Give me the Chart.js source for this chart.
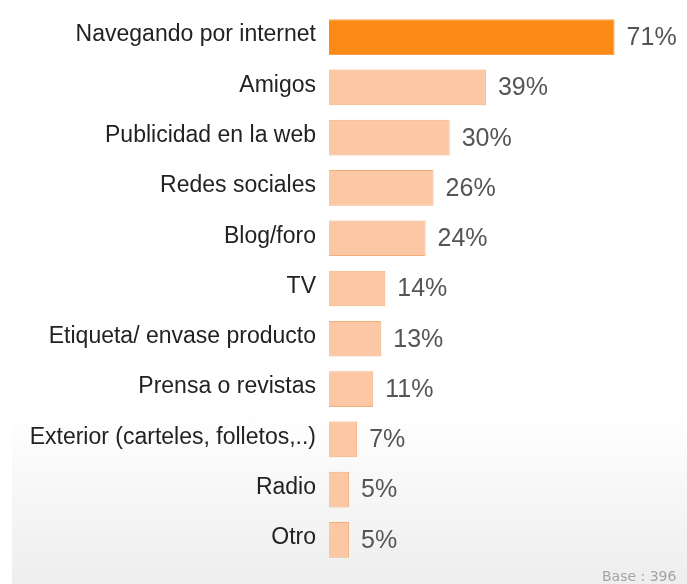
<!DOCTYPE html>
<html>
<head>
<meta charset="utf-8">
<script src="https://cdn.jsdelivr.net/npm/chart.js@4"></script>
<style>
  html, body { margin: 0; padding: 0; background: #fff; }
  .wrap { position: relative; width: 687px; height: 584px; overflow: hidden; }
  .panel {
    position: absolute; left: 12px; top: 0; right: 0; bottom: 0;
    background: linear-gradient(to bottom, #ffffff 0%, #ffffff 70%, #eeeeee 100%);
  }
  canvas { position: absolute; left: 0; top: 0; }
  .base {
    position: absolute; left: 602px; top: 568px; line-height: 16px;
    font: 14px "DejaVu Sans", sans-serif; color: #a3a3a3; white-space: nowrap;
  }
</style>
</head>
<body>
<div class="wrap">
  <div class="panel"></div>
  <canvas id="chart" width="687" height="584"></canvas>
  <div class="base">Base : 396</div>
</div>
<script>
const categories = [
  'Navegando por internet',
  'Amigos',
  'Publicidad en la web',
  'Redes sociales',
  'Blog/foro',
  'TV',
  'Etiqueta/ envase producto',
  'Prensa o revistas',
  'Exterior (carteles, folletos,..)',
  'Radio',
  'Otro'
];
const values = [71, 39, 30, 26, 24, 14, 13, 11, 7, 5, 5];

const highlightFill = '#fb8a17';
const normalFill = '#fcc7a5';
const normalBorder = '#f2ad78';

// percentage text just past the end of each bar
const valueLabels = {
  id: 'valueLabels',
  afterDatasetsDraw(chart) {
    const ctx = chart.ctx;
    const meta = chart.getDatasetMeta(0);
    ctx.save();
    ctx.font = '25px "Liberation Sans", Arial, sans-serif';
    ctx.fillStyle = '#555555';
    ctx.textAlign = 'left';
    ctx.textBaseline = 'middle';
    meta.data.forEach((bar, i) => {
      ctx.fillText(values[i] + '%', bar.x + 12, bar.y + 1);
    });
    ctx.restore();
  }
};

new Chart(document.getElementById('chart'), {
  type: 'bar',
  data: {
    labels: categories,
    datasets: [{
      data: values,
      backgroundColor: values.map((v, i) => i === 0 ? highlightFill : normalFill),
      borderColor: values.map((v, i) => i === 0 ? '#f9a14a' : normalBorder),
      borderWidth: 1,
      barPercentage: 0.71,
      categoryPercentage: 1
    }]
  },
  options: {
    indexAxis: 'y',
    responsive: false,
    animation: false,
    layout: { padding: { top: 12, bottom: 19, left: 0, right: 0 } },
    plugins: { legend: { display: false }, tooltip: { enabled: false } },
    scales: {
      x: {
        display: false,
        min: 0,
        max: 89
      },
      y: {
        afterFit(scale) {
          scale.width = 329;
          // labels sit inside the band, no extra room above/below needed
          scale.paddingTop = 0;
          scale.paddingBottom = 0;
        },
        grid: { display: false, drawTicks: false },
        border: { display: false },
        ticks: {
          padding: 13,
          labelOffset: -2,
          color: '#222222',
          font: { family: '"Liberation Sans", Arial, sans-serif', size: 23 }
        }
      }
    }
  },
  plugins: [valueLabels]
});
</script>
</body>
</html>
